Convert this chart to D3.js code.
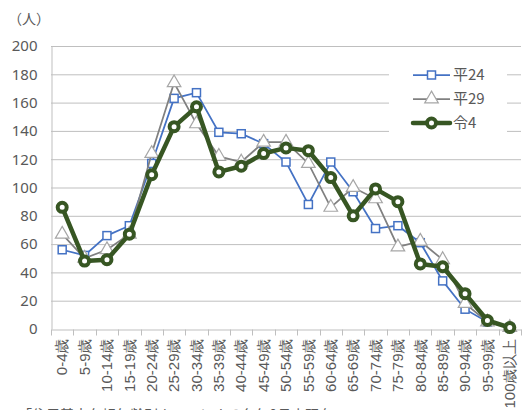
<!DOCTYPE html>
<html>
<head>
<meta charset="utf-8">
<script src="https://cdn.jsdelivr.net/npm/d3@7"></script>
<style>
  body { margin: 0; background: #fff; }
  svg { display: block; font-family: "Noto Sans CJK JP", "Noto Sans", sans-serif; }
</style>
</head>
<body>
<div id="chart"></div>
<script>
const ages = ['0-4歳', '5-9歳', '10-14歳', '15-19歳', '20-24歳', '25-29歳', '30-34歳', '35-39歳',
  '40-44歳', '45-49歳', '50-54歳', '55-59歳', '60-64歳', '65-69歳', '70-74歳', '75-79歳',
  '80-84歳', '85-89歳', '90-94歳', '95-99歳', '100歳以上'];

const h24 = [56, 52, 66, 73, 117, 163, 167, 139, 138, 131, 118, 88, 118, 97, 71, 73, 61, 34, 14, 5, 1];
const h29 = [67, 50, 56, 67, 124, 174, 145, 122, 118, 132, 132, 117, 86, 100, 92, 58, 62, 49, 18, 5, 1];
const r4 = [86, 48, 49, 67, 109, 143, 157, 111, 115, 124, 128, 126, 107, 80, 99, 90, 46, 44, 25, 6, 1];

const seriesNames = ['平24', '平29', '令4'];
const yTicks = [0, 20, 40, 60, 80, 100, 120, 140, 160, 180, 200];

const width = 524;
const height = 410;
const margin = { top: 46, right: 3, bottom: 81, left: 51 };

const svg = d3.select('#chart').append('svg')
  .attr('width', width)
  .attr('height', height);

const x = d3.scaleBand()
  .domain(ages)
  .range([margin.left, width - margin.right]);

const y = d3.scaleLinear()
  .domain([0, 200])
  .range([height - margin.bottom, margin.top]);

// grid
svg.append('g')
  .selectAll('line')
  .data(yTicks.slice(1))
  .join('line')
  .attr('x1', margin.left)
  .attr('x2', width - margin.right)
  .attr('y1', d => y(d) + 0.5)
  .attr('y2', d => y(d) + 0.5)
  .attr('stroke', '#bfbfbf')
  .attr('stroke-width', 1);

// y axis
const yAxis = svg.append('g')
  .attr('transform', `translate(${margin.left + 0.5},0)`)
  .call(d3.axisLeft(y).tickValues(yTicks).tickSize(0).tickPadding(14));
yAxis.select('.domain').attr('stroke', '#bfbfbf');
yAxis.selectAll('text')
  .attr('fill', '#595959')
  .style('font-size', '15px')
  .style('font-family', '"Noto Sans", sans-serif');

// x axis
const xAxis = svg.append('g')
  .attr('transform', `translate(0,${y(0) + 0.5})`)
  .call(d3.axisBottom(x).tickSize(0));
xAxis.select('.domain').attr('stroke', '#bfbfbf');
xAxis.selectAll('text')
  .attr('fill', '#595959')
  .style('font-size', '15px')
  .attr('transform', 'rotate(-90)')
  .attr('text-anchor', 'end')
  .attr('x', -9)
  .attr('y', 0)
  .attr('dy', '0.35em');
// boundary ticks
xAxis.append('g')
  .selectAll('line')
  .data(ages.map(d => x(d)).concat([width - margin.right]))
  .join('line')
  .attr('x1', d => Math.round(d) + 0.5)
  .attr('x2', d => Math.round(d) + 0.5)
  .attr('y1', 0)
  .attr('y2', 6)
  .attr('stroke', '#bfbfbf');

svg.append('text')
  .attr('x', 8)
  .attr('y', 24)
  .attr('fill', '#595959')
  .style('font-size', '14px')
  .text('（人）');

const cx = d => x(d) + x.bandwidth() / 2;
const lineFor = data => d3.line()
  .x((d, i) => cx(ages[i]))
  .y(d => y(d))(data);

// 平24
svg.append('path')
  .attr('d', lineFor(h24))
  .attr('fill', 'none')
  .attr('stroke', '#4472c4')
  .attr('stroke-width', 1.75);
svg.append('g')
  .selectAll('rect')
  .data(h24)
  .join('rect')
  .attr('x', (d, i) => cx(ages[i]) - 4)
  .attr('y', d => y(d) - 4)
  .attr('width', 8)
  .attr('height', 8)
  .attr('fill', '#fff')
  .attr('stroke', '#4472c4')
  .attr('stroke-width', 1.5);

// 平29
const tri = d3.symbol().type(d3.symbolTriangle).size(80);
svg.append('path')
  .attr('d', lineFor(h29))
  .attr('fill', 'none')
  .attr('stroke', '#808080')
  .attr('stroke-width', 1.75);
svg.append('g')
  .selectAll('path')
  .data(h29)
  .join('path')
  .attr('d', tri)
  .attr('transform', (d, i) => `translate(${cx(ages[i])},${y(d)})`)
  .attr('fill', '#fff')
  .attr('stroke', '#a6a6a6')
  .attr('stroke-width', 1.2);

// 令4
svg.append('path')
  .attr('d', lineFor(r4))
  .attr('fill', 'none')
  .attr('stroke', '#375623')
  .attr('stroke-width', 4.5)
  .attr('stroke-linejoin', 'round');
svg.append('g')
  .selectAll('circle')
  .data(r4)
  .join('circle')
  .attr('cx', (d, i) => cx(ages[i]))
  .attr('cy', d => y(d))
  .attr('r', 4.5)
  .attr('fill', '#fff')
  .attr('stroke', '#375623')
  .attr('stroke-width', 4);

// legend
const legend = svg.append('g');
legend.append('rect')
  .attr('x', 389)
  .attr('y', 58)
  .attr('width', 118)
  .attr('height', 86)
  .attr('fill', '#fff');

const legendItems = [
  { name: seriesNames[0], color: '#4472c4', w: 1.75, mark: 'rect' },
  { name: seriesNames[1], color: '#808080', w: 1.75, mark: 'tri' },
  { name: seriesNames[2], color: '#375623', w: 4.5, mark: 'circle' }
];
const ly = d3.scalePoint().domain(seriesNames).range([75, 123]);

legendItems.forEach(item => {
  const cy = ly(item.name);
  legend.append('line')
    .attr('x1', 413).attr('x2', 450)
    .attr('y1', cy).attr('y2', cy)
    .attr('stroke', item.color)
    .attr('stroke-width', item.w)
    .attr('stroke-linecap', item.mark === 'circle' ? 'round' : 'butt');
  if (item.mark === 'rect') {
    legend.append('rect')
      .attr('x', 427.5).attr('y', cy - 4)
      .attr('width', 8).attr('height', 8)
      .attr('fill', '#fff').attr('stroke', item.color).attr('stroke-width', 1.5);
  } else if (item.mark === 'tri') {
    legend.append('path')
      .attr('d', tri)
      .attr('transform', `translate(431.5,${cy})`)
      .attr('fill', '#fff').attr('stroke', '#a6a6a6').attr('stroke-width', 1.2);
  } else {
    legend.append('circle')
      .attr('cx', 431.5).attr('cy', cy).attr('r', 4.5)
      .attr('fill', '#fff').attr('stroke', item.color).attr('stroke-width', 4);
  }
  legend.append('text')
    .attr('x', 453)
    .attr('y', cy)
    .attr('dy', '0.35em')
    .attr('fill', '#595959')
    .style('font-size', '15px')
    .text(item.name);
});

// source note (cut off at the bottom edge, as in the original)
svg.append('text')
  .attr('x', 18)
  .attr('y', 420)
  .attr('fill', '#595959')
  .style('font-size', '14px')
  .text('「住民基本台帳年齢別人口」による各年9月末現在');
</script>
</body>
</html>
